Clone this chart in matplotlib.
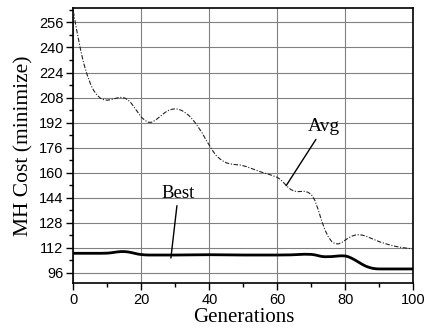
import matplotlib
matplotlib.use("Agg")
import matplotlib.pyplot as plt
import numpy as np
from matplotlib.ticker import MultipleLocator

avg_x = [0, 0.5, 1, 1.5, 2, 2.5, 3, 3.5, 4, 4.5, 5, 5.5, 6, 7, 8, 9, 10, 11, 12, 13, 14, 15, 16, 17, 18, 19, 20,
         21, 22, 23, 24, 25, 26, 27, 28, 29, 30, 31, 32, 33, 34, 35, 36, 37, 38, 39, 40, 41, 42, 43, 44, 45, 46,
         47, 48, 49, 50, 51, 52, 53, 54, 55, 56, 57, 58, 59, 60, 61, 62, 63, 64, 65, 66, 67, 68, 69, 70, 71, 72,
         73, 74, 75, 76, 77, 78, 79, 80, 81, 82, 83, 84, 85, 86, 87, 88, 89, 90, 92, 94, 96, 98, 100]
avg_y = [263, 257, 251, 245.5, 240, 235, 230.5, 226.5, 223, 220, 217, 214.5, 212.5, 209.5, 207.5, 206.6, 206.3, 206.6, 207.2, 207.8, 208.1, 207.8, 206.6, 204.5, 201.5, 198.5, 195.5,
         193.5, 192.2, 192.2, 193.3, 195, 196.8, 198.5, 199.8, 200.5, 200.8, 200.5, 199.6, 198.2, 196.5, 194.2, 191.5, 188.3, 185, 181, 177.5, 174, 171, 169, 167.5, 166.3, 165.7,
         165.3, 165.1, 164.9, 164.4, 163.8, 163, 162.2, 161.4, 160.6, 159.9, 159.3, 158.6, 157.8, 157, 155.5, 153.3, 151, 149.2, 148.2, 147.9, 148, 148.1, 147.5, 146, 142.5, 136.5,
         129.5, 123.5, 119, 116, 114.6, 114.5, 115.5, 117, 118.4, 119.5, 120.2, 120.4, 120.1, 119.5, 118.6, 117.7, 116.8, 115.9, 114.5, 113.3, 112.4, 111.8, 111.3]

best_x = [0, 8, 10, 11, 12, 13, 14, 15, 16, 17, 18, 19, 20, 21, 22, 30, 40, 50, 60, 64, 66, 68, 70, 71, 72, 73,
          74, 76, 77, 78, 79, 80, 81, 82, 83, 84, 85, 86, 87, 88, 89, 90, 100]
best_y = [108.5, 108.5, 108.6, 108.8, 109.1, 109.4, 109.6, 109.6, 109.4, 109, 108.5, 108, 107.7, 107.5, 107.4, 107.4, 107.6, 107.4, 107.4, 107.5, 107.7, 107.9, 107.8, 107.5, 107, 106.5,
          106.3, 106.4, 106.6, 106.8, 106.9, 106.8, 106.2, 105.2, 104, 102.7, 101.4, 100.3, 99.5, 98.9, 98.6, 98.5, 98.5]

x_ticks = [0, 20, 40, 60, 80, 100]
y_ticks = [96, 112, 128, 144, 160, 176, 192, 208, 224, 240, 256]

fig = plt.figure(figsize=(4.27, 3.33), dpi=100)
ax = fig.add_axes([0.1717, 0.1505, 0.7963, 0.8245])

ax.plot(avg_x, avg_y, color="#222222", lw=0.8, linestyle=(0, (4, 1.5, 1, 1.5)), zorder=3)
ax.plot(best_x, best_y, color="black", lw=2.0, solid_capstyle="butt", zorder=3)

ax.set_xlim(0, 100)
ax.set_ylim(89.6, 265)
ax.set_xticks(x_ticks)
ax.set_yticks(y_ticks)
ax.xaxis.set_minor_locator(MultipleLocator(10))
ax.yaxis.set_minor_locator(MultipleLocator(8))
ax.grid(True, which="major", color="#808080", lw=0.8, zorder=0)

ax.tick_params(which="major", direction="out", length=5, width=1, labelsize=10.5, pad=2)
ax.tick_params(which="minor", direction="out", length=3, width=1)
for lab in ax.get_xticklabels() + ax.get_yticklabels():
    lab.set_family("Liberation Sans")
for sp in ax.spines.values():
    sp.set_linewidth(1.2)

ax.set_ylabel("MH Cost (minimize)", family="Liberation Serif", fontsize=15.5, labelpad=4)
ax.set_xlabel("Generations", family="Liberation Serif", fontsize=15, labelpad=1)

ax.annotate("Best", xy=(28.7, 105.5), xytext=(30.9, 147), family="Liberation Serif", fontsize=13.5,
            ha="center", va="center",
            arrowprops=dict(arrowstyle="-", color="black", lw=1.0, shrinkA=1, shrinkB=0))
ax.annotate("Avg", xy=(62.6, 151.7), xytext=(73.7, 189.2), family="Liberation Serif", fontsize=14,
            ha="center", va="center",
            arrowprops=dict(arrowstyle="-", color="black", lw=1.0, shrinkA=1, shrinkB=0))

fig.savefig("out.png", dpi=100)
